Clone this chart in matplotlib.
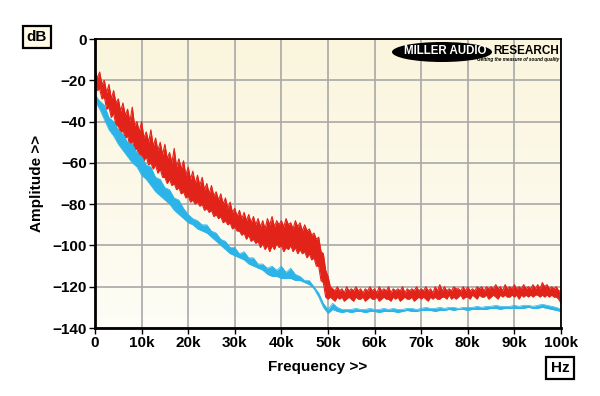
import numpy as np
import matplotlib
matplotlib.use('Agg')
import matplotlib.pyplot as plt
from matplotlib.patches import Ellipse

plt.rcParams['font.family'] = ['Liberation Sans', 'DejaVu Sans']
plt.rcParams['font.weight'] = 'bold'

# frequency grids in kHz
freq_red = np.arange(0, 100.01, 0.5)   # 201 points
freq_cyan = np.arange(0, 101, 1)       # 101 points

# red trace: top / bottom edge of the noise band, every 0.5 kHz (dB)
red_hi = [-15, -19, -16, -22, -20, -26, -22, -29, -25, -31,
          -29, -35, -31, -37, -34, -40, -33, -42, -40, -45,
          -40, -48, -45, -50, -44, -52, -48, -54, -50, -56,
          -51, -58, -55, -60, -53, -62, -58, -63, -59, -66,
          -62, -68, -64, -70, -66, -71, -67, -73, -70, -75,
          -71, -76, -74, -78, -75, -80, -77, -82, -79, -84,
          -82, -86, -83, -87, -84, -88, -85, -89, -86, -90,
          -87, -91, -88, -92, -87, -90, -86, -91, -88, -90,
          -88, -91, -87, -90, -89, -92, -88, -91, -89, -93,
          -90, -93, -92, -95, -94, -97, -96, -103, -104, -112,
          -115, -120, -121, -122, -120, -122, -121, -123, -120, -122,
          -121, -122, -120, -122, -121, -123, -121, -122, -120, -122,
          -121, -123, -120, -122, -121, -122, -120, -123, -121, -122,
          -121, -122, -120, -123, -121, -122, -121, -122, -120, -122,
          -121, -122, -120, -122, -121, -123, -120, -122, -119, -122,
          -120, -122, -121, -122, -120, -121, -121, -122, -120, -122,
          -120, -122, -121, -122, -120, -121, -120, -122, -120, -121,
          -120, -121, -119, -121, -120, -122, -119, -121, -120, -121,
          -119, -121, -120, -121, -119, -121, -120, -121, -119, -121,
          -119, -121, -118, -120, -119, -121, -120, -121, -120, -122,
          -122]
red_lo = [-21, -25, -24, -29, -28, -34, -33, -38, -36, -42,
          -42, -46, -44, -48, -47, -52, -49, -54, -53, -57,
          -56, -59, -57, -61, -60, -63, -61, -65, -63, -67,
          -67, -70, -68, -71, -70, -73, -72, -75, -74, -77,
          -76, -79, -78, -80, -79, -81, -80, -83, -82, -84,
          -83, -86, -85, -87, -86, -89, -88, -90, -89, -92,
          -91, -93, -93, -95, -94, -97, -95, -98, -97, -99,
          -98, -101, -99, -102, -100, -103, -100, -102, -99, -101,
          -100, -103, -101, -102, -100, -103, -101, -104, -102, -104,
          -103, -106, -104, -107, -106, -110, -110, -117, -118, -125,
          -126, -125, -126, -127, -125, -126, -125, -127, -126, -125,
          -126, -127, -125, -126, -126, -125, -127, -126, -125, -126,
          -126, -125, -127, -126, -125, -126, -126, -127, -125, -126,
          -125, -127, -126, -125, -126, -126, -125, -127, -126, -125,
          -126, -125, -126, -127, -125, -126, -125, -126, -126, -125,
          -125, -126, -124, -126, -125, -126, -125, -124, -126, -125,
          -125, -126, -124, -125, -126, -124, -125, -125, -124, -126,
          -125, -124, -125, -126, -124, -125, -124, -125, -125, -124,
          -125, -124, -126, -124, -125, -124, -125, -124, -125, -124,
          -124, -125, -124, -125, -124, -125, -124, -125, -125, -126,
          -128]

# cyan trace, every 1 kHz
cyan_hi = [-27, -30, -32, -38, -40, -44, -46, -50, -51, -55,
           -57, -61, -62, -67, -68, -72, -73, -77, -78, -82,
           -85, -87, -88, -90, -90, -93, -94, -97, -98, -101,
           -101, -104, -103, -106, -106, -109, -109, -111, -110, -112,
           -110, -113, -111, -114, -115, -117, -117, -120, -123, -128,
           -131, -128, -130, -131, -131, -131, -130.5, -131, -131, -130.5,
           -131, -131, -130.5, -131, -130.5, -131, -131, -130.5, -130.5, -131,
           -130.5, -130, -130.5, -130.5, -130, -130.5, -130, -130, -130.5, -130,
           -130, -130, -129.5, -130, -129.5, -129.5, -129, -129.5, -129.5, -129.5,
           -129, -129.5, -129, -129, -129.5, -129, -128.5, -129, -129.5, -130,
           -131]
cyan_lo = [-30, -34, -39, -44, -47, -51, -54, -57, -60, -62,
           -66, -68, -71, -74, -76, -78, -80, -83, -85, -87,
           -89, -90, -92, -93, -94, -96, -98, -100, -102, -104,
           -105, -106, -107, -109, -110, -111, -112, -114, -115, -115,
           -116, -116, -116, -117, -117, -118, -119, -121, -125, -130,
           -133, -131, -132, -132.5, -132, -132.5, -132, -132, -132.5, -132,
           -132, -132.5, -132, -132, -132, -132.5, -132, -131.5, -132, -132,
           -131.5, -131.5, -131.5, -132, -131.5, -131.5, -131, -131.5, -131, -131,
           -131.5, -131, -131, -131, -131, -130.5, -130.5, -131, -130.5, -130.5,
           -130.5, -130.5, -130.5, -130, -130.5, -130.5, -130, -130.5, -131, -131.5,
           -132]

x_ticks = [0, 10, 20, 30, 40, 50, 60, 70, 80, 90, 100]
x_labels = ['0', '10k', '20k', '30k', '40k', '50k', '60k', '70k', '80k', '90k', '100k']
y_ticks = [0, -20, -40, -60, -80, -100, -120, -140]


def draw_band(ax, f, hi, lo, col, z, lw):
    # solid noise band with jagged edges
    ax.fill_between(f, hi, lo, color=col, lw=0, zorder=z)
    ax.plot(f, hi, color=col, lw=lw, zorder=z)
    ax.plot(f, lo, color=col, lw=lw, zorder=z)


fig = plt.figure(figsize=(6, 3.96), dpi=100)
fig.patch.set_facecolor('white')
ax = fig.add_axes([0.1583, 0.1717, 0.7767, 0.7298])

# cream gradient background
grad = np.linspace(0, 1, 256).reshape(-1, 1)
top = np.array([250, 245, 220]) / 255
bot = np.array([254, 253, 246]) / 255
img = top[None, None, :] * (1 - grad[:, :, None]) + bot[None, None, :] * grad[:, :, None]
ax.imshow(img, extent=[0, 100, -140, 0], aspect='auto', zorder=0, origin='upper')

ax.set_xlim(0, 100)
ax.set_ylim(-140, 0)
ax.set_xticks(x_ticks)
ax.set_xticklabels(x_labels)
ax.set_yticks(y_ticks)
ax.grid(True, color='#a8a8a8', lw=1.2, zorder=1)
ax.set_axisbelow(False)

draw_band(ax, freq_red, red_hi, red_lo, '#e2231a', 3, 0.8)
draw_band(ax, freq_cyan, cyan_hi, cyan_lo, '#2cb4e8', 4, 0.5)

for s in ['left', 'bottom']:
    ax.spines[s].set_linewidth(2.0)
for s in ['top', 'right']:
    ax.spines[s].set_linewidth(1.3)
for s in ax.spines.values():
    s.set_zorder(6)
ax.tick_params(direction='out', length=4, width=1, labelsize=11, pad=2)
for lab in ax.get_xticklabels() + ax.get_yticklabels():
    lab.set_fontweight('bold')

ax.set_xlabel('Frequency >>', fontsize=11, fontweight='bold')
ax.xaxis.set_label_coords(0.478, -0.11)
ax.set_ylabel('Amplitude >>', fontsize=11, fontweight='bold', labelpad=6)

# unit boxes
fig.text(37 / 600, 1 - 37 / 396, 'dB', ha='center', va='center', fontsize=11, fontweight='bold',
         bbox=dict(boxstyle='square,pad=0.28', fc='#fffbe6', ec='black', lw=1.6))
fig.text(560 / 600, 1 - 368 / 396, 'Hz', ha='center', va='center', fontsize=11, fontweight='bold',
         bbox=dict(boxstyle='square,pad=0.28', fc='white', ec='black', lw=1.6))

# logo
ell = Ellipse((442 / 600, 1 - 52 / 396), 100 / 600, 20 / 396, transform=fig.transFigure,
              fc='black', ec='none', zorder=10)
fig.patches.append(ell)
fig.text(445 / 600, 1 - 51 / 396, 'MILLER AUDIO', ha='center', va='center', fontsize=8.3,
         fontweight='bold', color='white', zorder=11)
fig.text(526 / 600, 1 - 51 / 396, 'RESEARCH', ha='center', va='center', fontsize=8.5,
         fontweight='bold', color='black', zorder=11)
fig.text(559 / 600, 1 - 60 / 396, 'Getting the measure of sound quality', ha='right', va='center',
         fontsize=3.3, fontweight='bold', style='italic', color='black', zorder=11)

fig.savefig('out.png', dpi=100)
